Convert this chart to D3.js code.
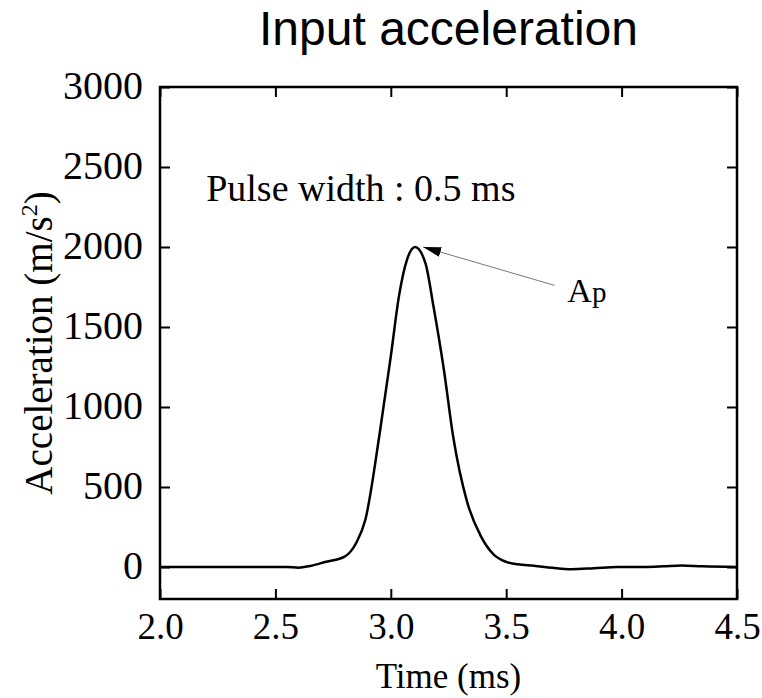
<!DOCTYPE html>
<html>
<head>
<meta charset="utf-8">
<script src="https://cdn.jsdelivr.net/npm/d3@7.9.0/dist/d3.min.js"></script>
<style>
  html, body { margin: 0; padding: 0; background: #fff; }
  svg text { fill: #000; }
</style>
</head>
<body>
<svg id="chart" width="762" height="698"></svg>
<script>
// time (ms) and acceleration (m/s^2)
const timeMs = [2.0, 2.3, 2.55, 2.6, 2.65, 2.72, 2.8, 2.85, 2.89, 2.95, 3.0, 3.035, 3.07, 3.105,
  3.15, 3.185, 3.23, 3.27, 3.33, 3.39, 3.445, 3.5, 3.55, 3.62, 3.7, 3.78, 3.88, 3.98, 4.1, 4.18, 4.26, 4.35, 4.5];
const accel = [0, 0, 0, -4, 6, 33, 65, 150, 297, 817, 1316, 1690, 1920, 2000,
  1899, 1628, 1233, 817, 410, 193, 79, 32, 17, 8, -5, -14, -8, 0, 0, 4, 10, 4, 0];

const xTicks = [2.0, 2.5, 3.0, 3.5, 4.0, 4.5];
const yTicks = [0, 500, 1000, 1500, 2000, 2500, 3000];

const title = 'Input acceleration';
const xLabel = 'Time (ms)';
const note = 'Pulse width : 0.5 ms';
// arrow pointing at the peak, in data units
const arrowTip = [3.14, 2000];
const arrowTail = [3.71, 1760];
const apPos = [3.765, 1655];

const width = 762, height = 698;
const margin = { top: 87, right: 25, bottom: 99, left: 160 };

const svg = d3.select('#chart');

const x = d3.scaleLinear().domain([2, 4.5]).range([margin.left, width - margin.right]);
const y = d3.scaleLinear().domain([-200, 3000]).range([height - margin.bottom, margin.top]);

const serif = '"Liberation Serif", "Times New Roman", serif';

// axes, ticks pointing inward
const fmtX = d3.format('.1f');
const gx = svg.append('g')
  .attr('transform', `translate(0,${height - margin.bottom})`)
  .call(d3.axisBottom(x).tickValues(xTicks).tickFormat(fmtX).tickSizeInner(-10).tickSizeOuter(0).tickPadding(14));
svg.append('g')
  .attr('transform', `translate(0,${margin.top})`)
  .call(d3.axisTop(x).tickValues(xTicks).tickFormat('').tickSizeInner(-10).tickSizeOuter(0));
const gy = svg.append('g')
  .attr('transform', `translate(${margin.left},0)`)
  .call(d3.axisLeft(y).tickValues(yTicks).tickFormat(d3.format('d')).tickSizeInner(-10).tickSizeOuter(0).tickPadding(17));
svg.append('g')
  .attr('transform', `translate(${width - margin.right},0)`)
  .call(d3.axisRight(y).tickValues(yTicks).tickFormat('').tickSizeInner(-10).tickSizeOuter(0));

svg.selectAll('.domain').remove();
svg.selectAll('.tick line').attr('stroke', '#000').attr('stroke-width', 2);
gx.selectAll('.tick text')
  .style('font-family', serif)
  .style('font-size', '37px')
  .attr('fill', '#000');
gy.selectAll('.tick text')
  .style('font-family', serif)
  .style('font-size', '40px')
  .attr('dy', '0.28em')
  .attr('fill', '#000');

// frame
svg.append('rect')
  .attr('x', margin.left)
  .attr('y', margin.top)
  .attr('width', width - margin.left - margin.right)
  .attr('height', height - margin.top - margin.bottom)
  .attr('fill', 'none')
  .attr('stroke', '#000')
  .attr('stroke-width', 2.5);

// the pulse
const data = timeMs.map((t, i) => ({ t, a: accel[i] }));
const line = d3.line()
  .x(d => x(d.t))
  .y(d => y(d.a))
  .curve(d3.curveMonotoneX);

svg.append('path')
  .datum(data)
  .attr('fill', 'none')
  .attr('stroke', '#000')
  .attr('stroke-width', 2.5)
  .attr('d', line);

// arrow to the peak
svg.append('defs').append('marker')
  .attr('id', 'head')
  .attr('viewBox', '0 0 18 10')
  .attr('refX', 18).attr('refY', 5)
  .attr('markerWidth', 18).attr('markerHeight', 10)
  .attr('markerUnits', 'userSpaceOnUse')
  .attr('orient', 'auto')
  .append('path')
  .attr('d', 'M0,0 L18,5 L0,10 Z')
  .attr('fill', '#000');

svg.append('line')
  .attr('x1', x(arrowTail[0])).attr('y1', y(arrowTail[1]))
  .attr('x2', x(arrowTip[0])).attr('y2', y(arrowTip[1]))
  .attr('stroke', '#777')
  .attr('stroke-width', 1)
  .attr('marker-end', 'url(#head)');

const ap = svg.append('text')
  .attr('x', x(apPos[0])).attr('y', y(apPos[1]))
  .style('font-family', serif)
  .style('font-size', '34px');
ap.append('tspan').text('A');
ap.append('tspan').style('font-size', '29px').text('p');

svg.append('text')
  .attr('x', x(2.2)).attr('y', y(2290))
  .style('font-family', serif)
  .style('font-size', '38px')
  .text(note);

// titles
svg.append('text')
  .attr('x', (margin.left + width - margin.right) / 2)
  .attr('y', 45)
  .attr('text-anchor', 'middle')
  .style('font-family', '"Liberation Sans", Arial, sans-serif')
  .style('font-size', '48px')
  .text(title);

svg.append('text')
  .attr('x', (margin.left + width - margin.right) / 2)
  .attr('y', 688)
  .attr('text-anchor', 'middle')
  .style('font-family', serif)
  .style('font-size', '35px')
  .text(xLabel);

const yTitle = svg.append('text')
  .attr('transform', `translate(52,${(margin.top + height - margin.bottom) / 2}) rotate(-90)`)
  .attr('text-anchor', 'middle')
  .style('font-family', serif)
  .style('font-size', '39px');
yTitle.append('tspan').text('Acceleration (m/s');
yTitle.append('tspan').attr('dy', -15).style('font-size', '24px').text('2');
yTitle.append('tspan').attr('dy', 15).text(')');
</script>
</body>
</html>
